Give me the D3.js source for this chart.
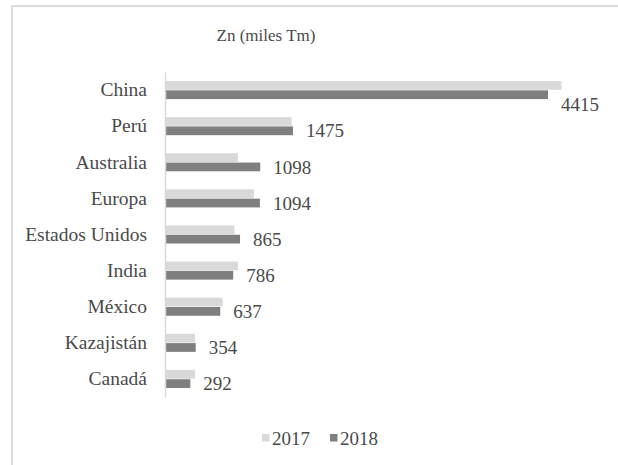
<!DOCTYPE html>
<html>
<head>
<meta charset="utf-8">
<script src="https://cdn.jsdelivr.net/npm/d3@7"></script>
</head>
<body style="margin:0;padding:0;background:#fff">
<svg id="chart" width="618" height="465" style="display:block"></svg>
<script>
// Zinc production by country (thousand tonnes)
const categories = ["China", "Perú", "Australia", "Europa", "Estados Unidos", "India", "México", "Kazajistán", "Canadá"];
const seriesNames = ["2017", "2018"];
const values2017 = [4570, 1460, 840, 1025, 800, 840, 665, 346, 346];
const values2018 = [4415, 1475, 1098, 1094, 865, 786, 637, 354, 292];
const title = "Zn (miles Tm)";

const colors = { "2017": "#d9d9d9", "2018": "#7f7f7f" };
const FONT = "Liberation Serif";
const TEXT_COLOR = "#4a4a4a";

const svg = d3.select("#chart");

// outer chart frame (cut off on the right and bottom)
svg.append("path")
  .attr("d", "M12,470 L12,6 L625,6")
  .attr("fill", "none")
  .attr("stroke", "#dcdcdc")
  .attr("stroke-width", 2);

svg.append("text")
  .attr("x", 266).attr("y", 41)
  .attr("text-anchor", "middle")
  .attr("font-family", FONT)
  .attr("font-size", 17)
  .attr("fill", TEXT_COLOR)
  .text(title);

const rows = categories.map((c, i) => ({ name: c, "2017": values2017[i], "2018": values2018[i] }));

const x = d3.scaleLinear().domain([0, 5000]).range([165, 598.75]);
const y = d3.scaleBand().domain(categories).range([72, 397]).paddingInner(0.5).paddingOuter(0.25);
const ySub = d3.scaleBand().domain(seriesNames).range([0, y.bandwidth()]).paddingInner(0.06);

// bars
const groups = svg.append("g").selectAll("g")
  .data(rows).join("g")
  .attr("transform", d => `translate(0,${y(d.name)})`);

groups.selectAll("rect")
  .data(d => seriesNames.map(s => ({ s, v: d[s] })))
  .join("rect")
  .attr("x", x(0))
  .attr("y", d => ySub(d.s))
  .attr("width", d => x(d.v) - x(0))
  .attr("height", ySub.bandwidth())
  .attr("fill", d => colors[d.s]);

// vertical category axis
const yAxis = svg.append("g")
  .attr("transform", `translate(${x(0)},0)`)
  .call(d3.axisLeft(y).tickSize(0).tickPadding(18))
  .attr("font-family", FONT)
  .attr("font-size", 19.5);
yAxis.select(".domain").attr("stroke", "#d9d9d9").attr("stroke-width", 1.5);
yAxis.selectAll("text").attr("fill", TEXT_COLOR);

// 2018 value labels; pushed below the bars when the 2017 bar reaches them
groups.append("text")
  .attr("x", d => x(d["2018"]) + 13)
  .attr("y", d => {
    const cy = ySub("2018") + ySub.bandwidth() / 2;
    return x(d["2017"]) > x(d["2018"]) + 11 ? cy + ySub.bandwidth() + 1 : cy;
  })
  .attr("dy", "0.35em")
  .attr("font-family", FONT)
  .attr("font-size", 19)
  .attr("fill", TEXT_COLOR)
  .text(d => d["2018"]);

// legend
const legend = svg.append("g");
const legendItems = [{ s: "2017", x: 262 }, { s: "2018", x: 330 }];
legendItems.forEach(it => {
  legend.append("rect")
    .attr("x", it.x).attr("y", 434)
    .attr("width", 7.5).attr("height", 7.5)
    .attr("fill", colors[it.s]);
  legend.append("text")
    .attr("x", it.x + 10).attr("y", 438)
    .attr("dy", "0.35em")
    .attr("font-family", FONT)
    .attr("font-size", 19)
    .attr("fill", TEXT_COLOR)
    .text(it.s);
});
</script>
</body>
</html>
